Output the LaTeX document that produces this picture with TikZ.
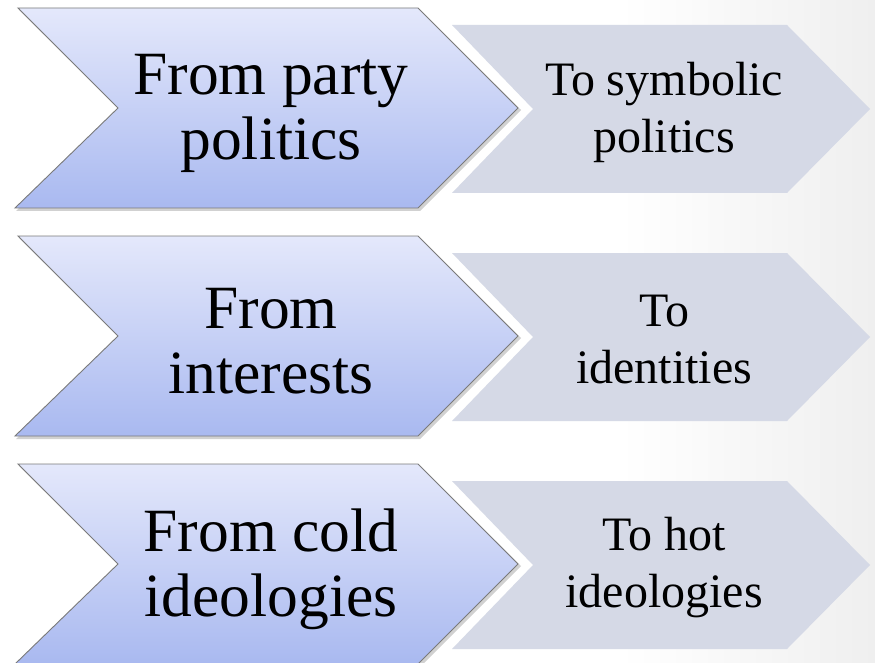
\documentclass[tikz,border=0pt]{standalone}
\usepackage{fontspec}
\setmainfont{Liberation Serif}
\usetikzlibrary{calc}
\definecolor{bigtop}{HTML}{E4E8FB}
\definecolor{bigbot}{HTML}{A9B9F0}
\definecolor{smallfill}{HTML}{D5D9E6}
\definecolor{edgegray}{HTML}{7A7A7A}
\definecolor{bgright}{HTML}{EFEFEF}
\tikzset{
  bigtext/.style={align=center, font=\fontsize{61.5}{65}\selectfont, inner sep=0pt},
  smalltext/.style={align=center, font=\fontsize{48}{57}\selectfont, inner sep=0pt},
  bigshape/.style={top color=bigtop, bottom color=bigbot, draw=edgegray, line width=0.9pt, line join=miter},
  smallshape/.style={fill=smallfill, draw=none},
  shadowshape/.style={fill=black, opacity=0.18, draw=none}
}
\begin{document}
\begin{tikzpicture}[x=1pt, y=-1pt]
\useasboundingbox (0,0) rectangle (875,663);
\fill[white] (0,0) rectangle (875,663);
\shade[left color=white, right color=bgright] (620,0) rectangle (875,663);
\foreach \dy/\i in {0/1,228/2,456/3}{
  % small chevron
  \fill[smallshape] (452,25+\dy) -- (787,25+\dy) -- (870,109+\dy) -- (787,193+\dy) -- (452,193+\dy) -- (533,109+\dy) -- cycle;
  % shadow
  \fill[shadowshape] (19,10+\dy) -- (420,10+\dy) -- (521,110+\dy) -- (420,211+\dy) -- (16,211+\dy) -- (120,110+\dy) -- cycle;
  % big chevron
  \path[bigshape] (18,8+\dy) -- (418,8+\dy) -- (518,108+\dy) -- (418,208+\dy) -- (15,208+\dy) -- (118,108+\dy) -- cycle;
}
\node[bigtext] (f1) at (271,113) {From party\\politics};
\node[smalltext] (t1) at (664,112) {To symbolic\\politics};
\node[bigtext] (f2) at (271,341) {From\\interests};
\node[smalltext] (t2) at (664,340) {To\\identities};
\node[bigtext] (f3) at (271,569) {From cold\\ideologies};
\node[smalltext] (t3) at (664,568) {To hot\\ideologies};
\end{tikzpicture}
\end{document}
